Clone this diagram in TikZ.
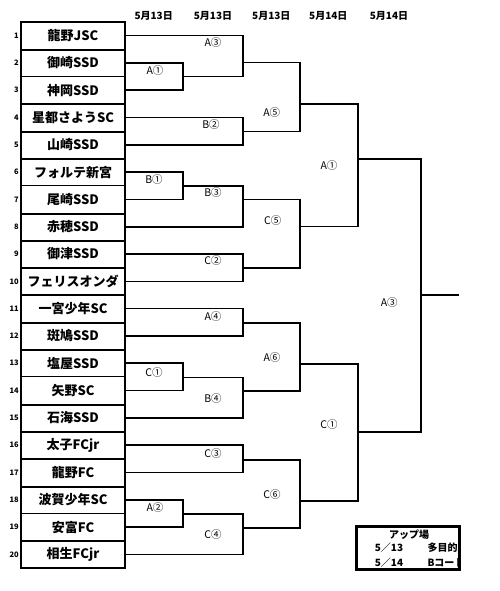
\documentclass[tikz,border=0pt]{standalone}
\usepackage{fontspec}
\setmainfont{Noto Sans CJK JP}
\begin{document}
\begin{tikzpicture}[x=1pt,y=-1pt,
  team/.style={draw,line width=0.9pt,minimum width=104pt,minimum height=27.3pt,inner sep=0pt,font=\fontsize{13}{13}\selectfont\bfseries},
  num/.style={anchor=east,inner sep=0pt,font=\fontsize{7.5}{8}\selectfont\bfseries},
  br/.style={line width=1.6pt},
  lab/.style={inner sep=0pt,font=\fontsize{10.5}{10.5}\selectfont},
  date/.style={inner sep=0pt,font=\fontsize{10}{10}\selectfont\bfseries},
  sep/.style={line width=2pt},
  boxt/.style={inner sep=0pt,font=\fontsize{10}{10}\selectfont\bfseries}]
\useasboundingbox (0,0) rectangle (500,591);
% dates
\node[date] (d1) at (153.7,15.7) {5月13日};
\node[date] (d2) at (213,15.7) {5月13日};
\node[date] (d3) at (271.3,15.7) {5月13日};
\node[date] (d4) at (328.3,15.7) {5月14日};
\node[date] (d5) at (389,15.7) {5月14日};
% teams
\foreach \i/\t in {1/龍野JSC,2/御崎SSD,3/神岡SSD,4/星都さようSC,5/山崎SSD,6/フォルテ新宮,7/尾崎SSD,8/赤穂SSD,9/御津SSD,10/フェリスオンダ,11/一宮少年SC,12/斑鳩SSD,13/塩屋SSD,14/矢野SC,15/石海SSD,16/太子FCjr,17/龍野FC,18/波賀少年SC,19/安富FC,20/相生FCjr}{
  \node[team] (t\i) at (73,{22+27.3*(\i-0.5)}) {\t};
  \node[num] (n\i) at (19,{22+27.3*(\i-0.5)}) {\i};
}
% thick outline and separators
\draw[sep] (t1.north west) rectangle (t20.south east);
\foreach \a/\b in {1/2,3/4,4/5,5/6,7/8,8/9,9/10,10/11,11/12,12/13,14/15,15/16,16/17,17/18,19/20}{
  \draw[sep] (t\a.south west) -- (t\a.south east);
}
% bracket points
\coordinate (mA1) at (183,76.65);
\coordinate (mA3) at (243,62.7);
\coordinate (mB2) at (243,131.3);
\coordinate (mA5) at (300,104);
\coordinate (mB1) at (183,186);
\coordinate (mB3) at (243,199.6);
\coordinate (mC2) at (243,267.7);
\coordinate (mC5) at (300,226.3);
\coordinate (mA1b) at (357.7,159);
\coordinate (mA4) at (243,322.7);
\coordinate (mC1) at (183,377.3);
\coordinate (mB4) at (243,391);
\coordinate (mA6) at (300,364);
\coordinate (mC3) at (243,460);
\coordinate (mA2) at (183,514);
\coordinate (mC4) at (243,527.7);
\coordinate (mC6) at (300,500.7);
\coordinate (mC1b) at (357.7,432);
\coordinate (mF) at (421,295);
\coordinate (win) at (459,295);
% brackets
\draw[br] (t2.east) -| (mA1) |- (t3.east);
\draw[br] (t1.east) -| (mA3) |- (mA1);
\draw[br] (t4.east) -| (mB2) |- (t5.east);
\draw[br] (mA3) -| (mA5) |- (mB2);
\draw[br] (t6.east) -| (mB1) |- (t7.east);
\draw[br] (mB1) -| (mB3) |- (t8.east);
\draw[br] (t9.east) -| (mC2) |- (t10.east);
\draw[br] (mB3) -| (mC5) |- (mC2);
\draw[br] (mA5) -| (mA1b) |- (mC5);
\draw[br] (t11.east) -| (mA4) |- (t12.east);
\draw[br] (t13.east) -| (mC1) |- (t14.east);
\draw[br] (mC1) -| (mB4) |- (t15.east);
\draw[br] (mA4) -| (mA6) |- (mB4);
\draw[br] (t16.east) -| (mC3) |- (t17.east);
\draw[br] (t18.east) -| (mA2) |- (t19.east);
\draw[br] (mA2) -| (mC4) |- (t20.east);
\draw[br] (mC3) -| (mC6) |- (mC4);
\draw[br] (mA6) -| (mC1b) |- (mC6);
\draw[br] (mA1b) -| (mF) |- (mC1b);
\draw[br] (mF) -- (win);
% labels
\node[lab] (lA1) at (155,71) {A①};
\node[lab] (lA3) at (213,43) {A③};
\node[lab] (lB2) at (211,124.5) {B②};
\node[lab] (lA5) at (271.7,112.7) {A⑤};
\node[lab] (lA1b) at (329,165.7) {A①};
\node[lab] (lB1) at (154,179.3) {B①};
\node[lab] (lB3) at (213,192.7) {B③};
\node[lab] (lC2) at (213,261) {C②};
\node[lab] (lC5) at (272.7,220.7) {C⑤};
\node[lab] (lF) at (389.3,302.3) {A③};
\node[lab] (lA4) at (213,316.7) {A④};
\node[lab] (lC1) at (154,372.7) {C①};
\node[lab] (lB4) at (213,398.3) {B④};
\node[lab] (lA6) at (272,357.3) {A⑥};
\node[lab] (lC3) at (213,453.3) {C③};
\node[lab] (lA2) at (155,507.3) {A②};
\node[lab] (lC4) at (213,535) {C④};
\node[lab] (lC6) at (272,494.3) {C⑥};
\node[lab] (lC1b) at (329,425) {C①};
% warm-up box
\begin{scope}
  \clip (356.7,526.7) rectangle (457.5,569.3);
  \node[boxt] (u0) at (409,534.5) {アップ場};
  \node[boxt] (u1) at (389,548) {5／13};
  \node[boxt,anchor=west] (u2) at (427.3,548) {多目的広場};
  \node[boxt] (u3) at (389,562.5) {5／14};
  \node[boxt,anchor=west] (u4) at (427.3,562.5) {Bコート};
\end{scope}
\draw[line width=2.8pt] (356.7,526.7) rectangle (459.5,569.3);
\end{tikzpicture}
\end{document}
